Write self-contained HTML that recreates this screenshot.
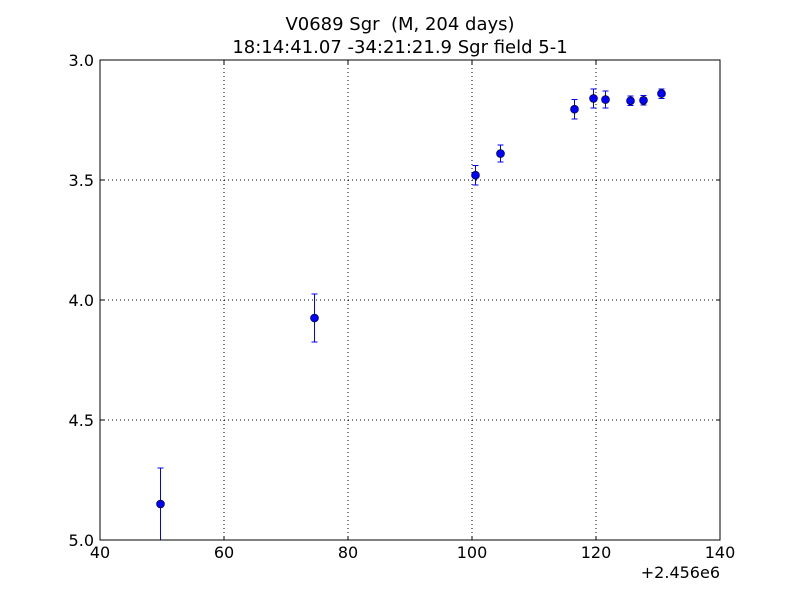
<!DOCTYPE html>
<html><head><meta charset="utf-8"><style>body{margin:0;background:#fff}svg{display:block;font-family:"DejaVu Sans","Liberation Sans",sans-serif}</style></head>
<body>
<svg id="c" width="800" height="600"></svg>
<script>
const xs=[49.7,74.5,100.5,104.5,116.5,119.5,121.5,125.5,127.5,130.5];
const ys=[4.85,4.075,3.48,3.39,3.205,3.16,3.165,3.17,3.168,3.14];
const errs=[0.15,0.1,0.04,0.035,0.04,0.04,0.035,0.02,0.02,0.02];
const xTicks=[40,60,80,100,120,140];
const yTicks=[3.0,3.5,4.0,4.5,5.0];
const yTickLabels=["3.0","3.5","4.0","4.5","5.0"];
const L=100,R=720,T=60,B=540;
const sx=v=>L+(v-40)/100*(R-L);
const sy=v=>T+(v-3)/2*(B-T);
const svg=document.getElementById('c');
const NS='http://www.w3.org/2000/svg';
function mk(tag,at,txt){const e=document.createElementNS(NS,tag);for(const k in at)e.setAttribute(k,at[k]);if(txt!==undefined)e.textContent=txt;svg.appendChild(e);return e;}
let e;
e=mk('text',{x:400,y:30,'text-anchor':'middle','font-size':18,style:'white-space:pre'},'V0689 Sgr  (M, 204 days)');


e=mk('text',{x:400,y:53,'text-anchor':'middle','font-size':18},'18:14:41.07 -34:21:21.9 Sgr field 5-1');


xTicks.forEach(t=>{const x=sx(t);
 if(t>40&&t<140){e=mk('line',{x1:x,x2:x,y1:T,y2:B,stroke:'#000','stroke-dasharray':'1,3','stroke-width':1});}
 mk('line',{x1:x,x2:x,y1:B,y2:B-4,stroke:'#000'});mk('line',{x1:x,x2:x,y1:T,y2:T+4,stroke:'#000'});
 e=mk('text',{x:x,y:B+18,'text-anchor':'middle','font-size':16},String(t));});
yTicks.forEach((t,i)=>{const y=sy(t);
 if(i>0&&i<yTicks.length-1){e=mk('line',{x1:L,x2:R,y1:y,y2:y,stroke:'#000','stroke-dasharray':'1,3','stroke-width':1});}
 mk('line',{x1:L,x2:L+4,y1:y,y2:y,stroke:'#000'});mk('line',{x1:R,x2:R-4,y1:y,y2:y,stroke:'#000'});
 e=mk('text',{x:L-6,y:y+6,'text-anchor':'end','font-size':16},yTickLabels[i]);});
e=mk('text',{x:R,y:B+38,'text-anchor':'end','font-size':16},'+2.456e6');


xs.forEach((v,i)=>{const x=Math.round(sx(v))+0.5,y1=sy(ys[i]-errs[i]),y2=sy(Math.min(ys[i]+errs[i],5));
 e=mk('g',{});
 const g=e;
 [[x,x,y1,y2],[x-3,x+3,y1,y1],[x-3,x+3,y2,y2]].forEach(a=>{const l=document.createElementNS(NS,'line');l.setAttribute('x1',a[0]);l.setAttribute('x2',a[1]);l.setAttribute('y1',a[2]);l.setAttribute('y2',a[3]);l.setAttribute('stroke','#0000ff');l.setAttribute('shape-rendering','crispEdges');g.appendChild(l);});
 const c=document.createElementNS(NS,'circle');c.setAttribute('cx',x);c.setAttribute('cy',sy(ys[i]));c.setAttribute('r',4);c.setAttribute('fill','#0000ff');c.setAttribute('stroke','#000');c.setAttribute('stroke-width',0.6);g.appendChild(c);});
e=mk('rect',{x:L,y:T,width:R-L,height:B-T,fill:'none',stroke:'#000','stroke-width':1});


</script>
</body></html>
